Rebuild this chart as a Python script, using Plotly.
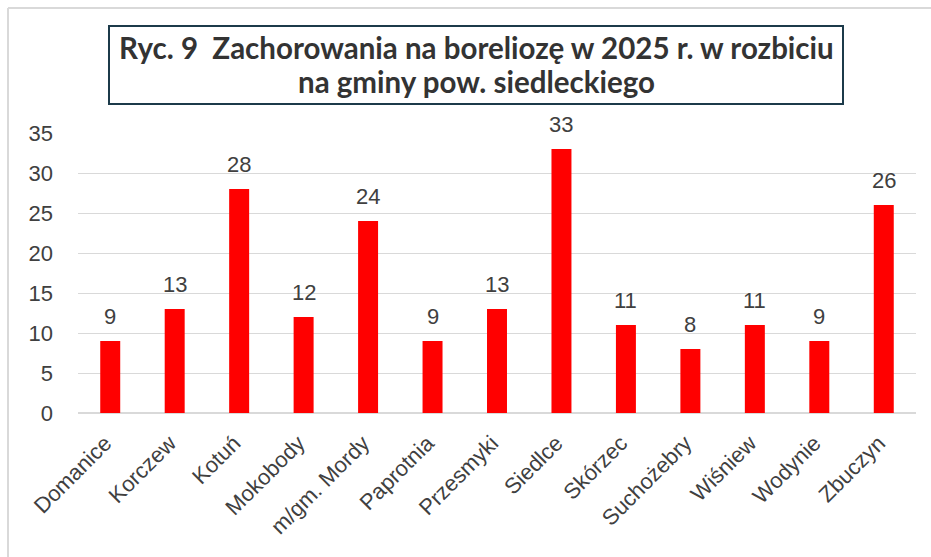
import plotly.graph_objects as go

categories = ["Domanice", "Korczew", "Kotuń", "Mokobody", "m/gm. Mordy", "Paprotnia",
              "Przesmyki", "Siedlce", "Skórzec", "Suchożebry", "Wiśniew", "Wodynie", "Zbuczyn"]
values = [9, 13, 28, 12, 24, 9, 13, 33, 11, 8, 11, 9, 26]
y_ticks = [0, 5, 10, 15, 20, 25, 30, 35]
title_lines = ["Ryc. 9\u00a0 Zachorowania na boreliozę w 2025 r. w rozbiciu",
               "na gminy pow. siedleckiego"]

W, H = 931, 557
ml, mr, mt, mb = 78, 15, 133, 144
pw, ph = W - ml - mr, H - mt - mb

def px_x(px):
    return (px - ml) / pw

def px_y(py):
    return (H - mb - py) / ph

FONT = "Liberation Sans, Arial"
TXT = "#404040"

fig = go.Figure()
fig.add_trace(go.Bar(
    x=categories, y=values,
    marker=dict(color="#ff0000", line=dict(width=0)),
    hoverinfo="x+y",
))

annotations = []
for c, v in zip(categories, values):
    annotations.append(dict(x=c, y=v, xref="x", yref="y", text=str(v), showarrow=False,
                            yanchor="middle", yshift=25,
                            font=dict(family=FONT, size=22, color=TXT)))

for line, cy in zip(title_lines, [48, 81]):
    annotations.append(dict(
        x=px_x(476), y=px_y(cy), xref="paper", yref="paper",
        xanchor="center", yanchor="middle", showarrow=False,
        text=line,
        font=dict(family="Lato", size=29.5, color="#333333", weight="bold"),
    ))

shapes = [
    dict(type="line", xref="paper", yref="paper", x0=px_x(8), x1=px_x(8), y0=px_y(8), y1=px_y(600),
         line=dict(color="#d9d9d9", width=2)),
    dict(type="line", xref="paper", yref="paper", x0=px_x(8), x1=px_x(960), y0=px_y(8), y1=px_y(8),
         line=dict(color="#d9d9d9", width=2)),
    dict(type="rect", xref="paper", yref="paper", x0=px_x(109), x1=px_x(843), y0=px_y(104), y1=px_y(26),
         line=dict(color="#1c3a4a", width=2), fillcolor="white", layer="below"),
]

fig.update_layout(
    width=W, height=H,
    margin=dict(l=ml, r=mr, t=mt, b=mb, pad=0),
    paper_bgcolor="white", plot_bgcolor="white",
    bargap=0.69,
    showlegend=False,
    annotations=annotations,
    shapes=shapes,
    xaxis=dict(tickangle=-45, tickfont=dict(family=FONT, size=22, color=TXT),
               showline=False, ticks="", showgrid=False, automargin=False,
               ticklabelstandoff=12, ticklabelshift=-5),
    yaxis=dict(range=[0, 35], tickvals=y_ticks, showgrid=True, gridcolor="#d9d9d9", gridwidth=1,
               zeroline=True, zerolinecolor="#d9d9d9", zerolinewidth=2,
               tickfont=dict(family=FONT, size=22, color=TXT),
               ticks="", ticklabelstandoff=24, showline=False, automargin=False),
)

fig.write_html("out.html", config={"displayModeBar": False},
               post_script="document.body.style.margin='0';")
